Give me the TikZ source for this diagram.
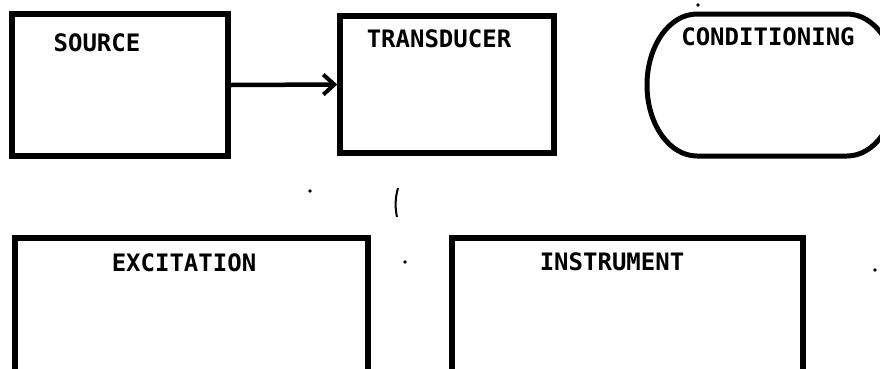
\documentclass[tikz,border=0pt]{standalone}
\usepackage{fontspec}
\newfontfamily\labfont{DejaVu Sans Mono}
\usetikzlibrary{arrows.meta}
\tikzset{
  box/.style={draw, line width=5.5pt, rectangle, inner sep=0pt, fill=none},
  lab/.style={font=\labfont\bfseries\fontsize{24pt}{26pt}\selectfont, inner sep=0pt, anchor=center},
  arr/.style={line width=4.5pt, -{Straight Barb[length=11pt, width=20pt, line width=4pt]}},
  speck/.style={fill=black, draw=none}
}
\begin{document}
\begin{tikzpicture}[x=1pt, y=-1pt]
\useasboundingbox (0,0) rectangle (880,368);
\clip (0,0) rectangle (880,368);
% top row
\node[box, minimum width=216pt, minimum height=142pt] (src) at (120,85) {};
\node[lab] (srclab) at (97,43) {SOURCE};
\node[box, minimum width=214pt, minimum height=137pt] (trans) at (447,84.5) {};
\node[lab] (translab) at (439,39) {TRANSDUCER};
\draw[arr] (src.east) -- (trans.west);
% conditioning
\coordinate (condtl) at (697,14);
\draw[line width=5pt] (condtl) -- (847,14) arc[start angle=90, end angle=-90, x radius=50, y radius=-71]
  -- (697,156) arc[start angle=270, end angle=90, x radius=50, y radius=-71] -- cycle;
\node[lab] (condlab) at (768,37) {CONDITIONING};
% bottom row
\node[box, minimum width=353pt, minimum height=200pt] (exc) at (191.5,338) {};
\node[lab] (exclab) at (184,263) {EXCITATION};
\node[box, minimum width=351pt, minimum height=200pt] (inst) at (627.5,338) {};
\node[lab] (instlab) at (612,262) {INSTRUMENT};
% specks
\fill[speck] (310,191) circle (1.8);
\fill[speck] (405,262) circle (1.8);
\fill[speck] (875,270) circle (1.8);
\fill[speck] (698,5) circle (1.8);
\draw[line width=2pt] (398,188) .. controls (395,198) and (395,208) .. (397,217);
\end{tikzpicture}
\end{document}
